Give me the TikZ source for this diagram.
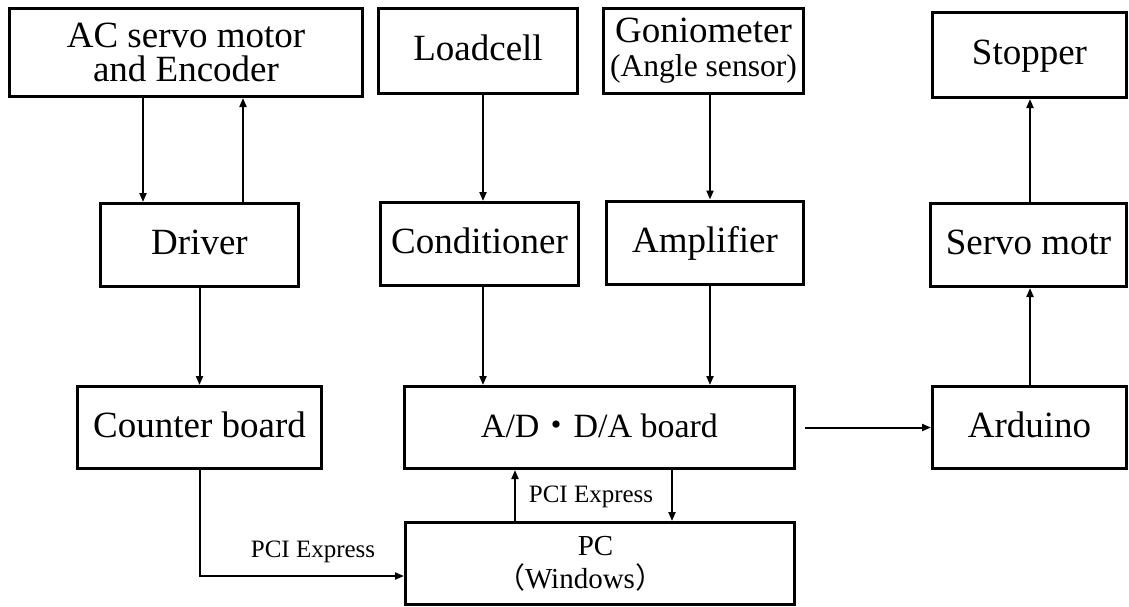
\documentclass[tikz,border=0pt]{standalone}
\usepackage{fontspec}
\setmainfont{Liberation Serif}
\newfontfamily\cjk{Noto Sans CJK JP}
\usetikzlibrary{arrows.meta}
\begin{document}
\begin{tikzpicture}[x=0.5pt,y=-0.5pt,
  box/.style={draw, line width=1.5pt, inner sep=0pt, align=center,
    font=\fontsize{18.5}{17}\selectfont},
  one/.style={text height=13.5pt, text depth=4pt},
  arr/.style={line width=1pt, -{Triangle[length=4.5pt,width=3.5pt]}},
  lbl/.style={font=\fontsize{12.5}{14}\selectfont, inner sep=0pt}]
\useasboundingbox (0,0) rectangle (1129,606);
% top row
\node[box, minimum width=176.5pt, minimum height=44pt] (ac) at (186,52.5) {AC servo motor\\and Encoder};
\node[box, one, minimum width=99.5pt, minimum height=42.5pt] (load) at (478,51) {Loadcell};
\node[box, minimum width=100pt, minimum height=42.5pt] (gonio) at (703.5,51) {Goniometer\\{\fontsize{15.8}{17}\selectfont (Angle sensor)}};
\node[box, one, minimum width=97pt, minimum height=42.5pt] (stop) at (1029.5,55) {Stopper};
% second row
\node[box, one, minimum width=99pt, minimum height=41.5pt] (drv) at (199.5,245) {Driver};
\node[box, one, minimum width=99pt, minimum height=41.5pt] (cond) at (479.5,244) {Conditioner};
\node[box, one, minimum width=98.5pt, minimum height=41.5pt] (amp) at (705,242.5) {Amplifier};
\node[box, one, minimum width=98pt, minimum height=41.5pt] (servo) at (1028.5,245) {Servo motr};
% third row
\node[box, one, minimum width=122pt, minimum height=41pt] (cnt) at (199.5,427.5) {Counter board};
\node[box, one, minimum width=195pt, minimum height=41pt, font=\fontsize{17}{17}\selectfont] (ad) at (599.5,427.5) {A/D{\cjk ・}D/A board};
\node[box, one, minimum width=97pt, minimum height=41pt] (ard) at (1029.5,427.5) {Arduino};
% PC
\node[box, minimum width=194.5pt, minimum height=41pt, font=\fontsize{14.5}{16.5}\selectfont] (pc) at (600,563.5) {PC\hspace*{4.5pt}\\{\cjk （}Windows{\cjk ）}\hspace*{20pt}};
% helper coordinates
\coordinate (xa) at (143,0);
\coordinate (xb) at (243,0);
\coordinate (xl) at (483,0);
\coordinate (xg) at (710,0);
\coordinate (xu) at (515,0);
\coordinate (xd) at (672,0);
\coordinate (xs) at (1030,0);
\coordinate (ypc) at (0,576);
% connectors
\draw[arr] (ac.south -| xa) -- (drv.north -| xa);
\draw[arr] (drv.north -| xb) -- (ac.south -| xb);
\draw[arr] (load.south -| xl) -- (cond.north -| xl);
\draw[arr] (gonio.south -| xg) -- (amp.north -| xg);
\draw[arr] (servo.north -| xs) -- (stop.south -| xs);
\draw[arr] (drv.south) -- (cnt.north);
\draw[arr] (cond.south -| xl) -- (ad.north -| xl);
\draw[arr] (amp.south -| xg) -- (ad.north -| xg);
\draw[arr] (ard.north -| xs) -- (servo.south -| xs);
\draw[arr, shorten <=4.5pt] (ad) -- (ard);
\draw[arr] (pc.north -| xu) -- (ad.south -| xu);
\draw[arr] (ad.south -| xd) -- (pc.north -| xd);
\draw[arr] (cnt.south) |- (pc.west |- ypc);
% labels
\node[lbl] (l1) at (313,552) {PCI Express};
\node[lbl] (l2) at (591,497) {PCI Express};
\end{tikzpicture}
\end{document}
